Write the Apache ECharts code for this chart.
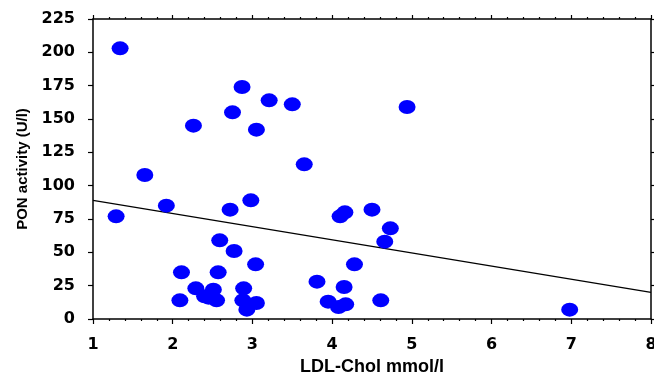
<!DOCTYPE html>
<html>
<head>
<meta charset="utf-8">
<script src="https://cdn.jsdelivr.net/npm/echarts@6/dist/echarts.min.js"></script>
<style>
  html, body { margin: 0; padding: 0; background: #fff; }
  #chart { width: 654px; height: 372px; }
</style>
</head>
<body>
<div id="chart"></div>
<script>
// LDL cholesterol (mmol/l) vs PON activity (U/l)
const ldlChol = [
  1.34, 1.29, 1.65, 1.92, 2.26, 2.72, 2.75, 2.87, 2.98, 3.05, 3.21, 3.50, 3.65, 4.94,
  2.59, 2.77, 3.04, 2.11, 2.57, 2.09, 2.29, 2.40, 2.51, 2.55, 2.45, 2.89, 2.88, 2.93,
  3.05, 3.81, 3.95, 4.08, 4.17, 4.15, 4.28, 4.10, 4.16, 4.50, 4.73, 4.66, 4.61, 6.98
];
const ponActivity = [
  203, 77, 108, 85, 145, 82, 155, 174, 89, 142, 164, 161, 116, 159,
  59, 51, 41, 35, 35, 14, 23, 17, 22, 14, 16, 23, 14, 7,
  12, 28, 13, 9, 11, 24, 41, 77, 80, 82, 68, 58, 14, 7
];
// regression line end points
const fitX = [1, 8];
const fitY = [89, 20];

const tickFont = { fontFamily: "DejaVu Sans", fontWeight: "bold", fontSize: 16, color: "#000" };
const axisLine = { show: true, onZero: false, lineStyle: { color: "#000", width: 1.5 } };

const chart = echarts.init(document.getElementById("chart"));
chart.setOption({
  animation: false,
  grid: { left: 93, right: 3, top: 19, bottom: 53, outerBoundsMode: "none", containLabel: false },
  xAxis: [
    {
      type: "value",
      position: "bottom",
      min: 1,
      max: 8,
      interval: 1,
      name: "LDL-Chol mmol/l",
      nameLocation: "middle",
      nameGap: 37,
      nameTextStyle: { fontFamily: "Liberation Sans", fontWeight: "bold", fontSize: 18, color: "#000" },
      axisLine: axisLine,
      axisTick: { show: true, length: 5, lineStyle: { color: "#000", width: 1.2 } },
      minorTick: { show: true, splitNumber: 5, length: 2, lineStyle: { color: "#000", width: 1.2 } },
      splitLine: { show: false },
      axisLabel: Object.assign({ margin: 18 }, tickFont),
    },
    {
      type: "value",
      position: "top",
      min: 1,
      max: 8,
      interval: 1,
      axisLine: axisLine,
      axisTick: { show: true, length: 4, lineStyle: { color: "#000", width: 1.2 } },
      minorTick: { show: true, splitNumber: 5, length: 2, lineStyle: { color: "#000", width: 1.2 } },
      splitLine: { show: false },
      axisLabel: { show: false },
    },
  ],
  yAxis: [
    {
      type: "value",
      position: "left",
      min: 0,
      max: 225,
      interval: 25,
      name: "PON activity (U/l)",
      nameLocation: "middle",
      nameGap: 61,
      nameTextStyle: { fontFamily: "Liberation Sans", fontWeight: "bold", fontSize: 15, color: "#000" },
      axisLine: axisLine,
      axisTick: { show: true, length: 5, lineStyle: { color: "#000", width: 1.2 } },
      splitLine: { show: false },
      axisLabel: Object.assign({ margin: 18 }, tickFont),
    },
    {
      type: "value",
      position: "right",
      min: 0,
      max: 225,
      interval: 25,
      axisLine: axisLine,
      axisTick: { show: true, length: 3, lineStyle: { color: "#000", width: 1.2 } },
      splitLine: { show: false },
      axisLabel: { show: false },
    },
  ],
  series: [
    {
      type: "line",
      data: fitX.map((x, i) => [x, fitY[i]]),
      symbol: "none",
      lineStyle: { color: "#000", width: 1.2 },
      z: 1,
    },
    {
      type: "scatter",
      data: ldlChol.map((x, i) => [x, ponActivity[i]]),
      symbol: "circle",
      symbolSize: [17, 14],
      itemStyle: { color: "#0000ff", opacity: 1 },
      z: 2,
    },
  ],
});
</script>
</body>
</html>
